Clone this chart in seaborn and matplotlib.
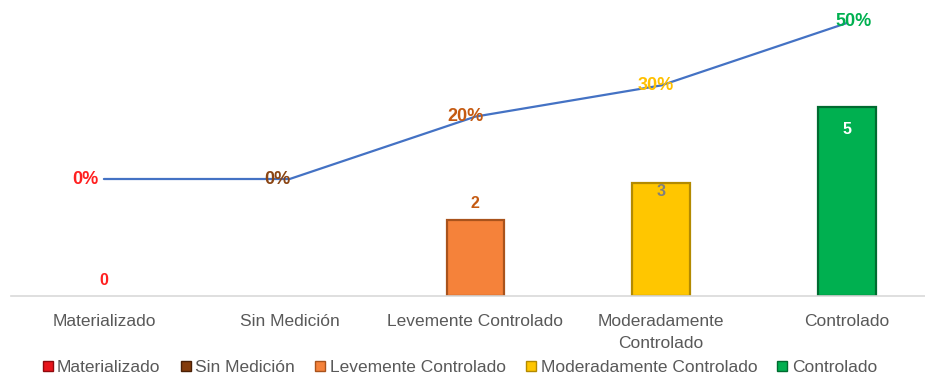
import matplotlib
matplotlib.use("Agg")
import matplotlib.pyplot as plt
from matplotlib.lines import Line2D
import seaborn as sns
import pandas as pd

# Data
categories = ["Materializado", "Sin Medición", "Levemente Controlado",
              "Moderadamente Controlado", "Controlado"]
tick_labels = ["Materializado", "Sin Medición", "Levemente Controlado",
               "Moderadamente\nControlado", "Controlado"]
counts = [0, 0, 2, 3, 5]
count_labels = ["0", "", "2", "3", "5"]
shares = [0.0, 0.0, 0.20, 0.30, 0.50]
share_labels = ["0%", "0%", "20%", "30%", "50%"]

colors = ["#E8141B", "#843C0C", "#F5823A", "#FFC600", "#00B050"]
edge_colors = ["#8F0A0E", "#4A2006", "#A9531C", "#B38A00", "#006B30"]
pct_colors = ["#FF2020", "#8B4513", "#C55A11", "#FFC000", "#00B050"]
count_colors = ["#FF2020", "#8B4513", "#C55A11", "#7F7F7F", "#FFFFFF"]

sns.set_theme(style="white")
plt.rcParams["font.family"] = ["Liberation Sans", "DejaVu Sans"]

df = pd.DataFrame({"categoria": categories, "cantidad": counts, "porcentaje": shares})

fig = plt.figure(figsize=(9.25, 3.74), dpi=100)
ax = fig.add_axes([11 / 925, 78 / 374, 914 / 925, 291 / 374])

sns.barplot(data=df, x="categoria", y="cantidad", hue="categoria",
            palette=colors, saturation=1, width=0.31, legend=False, ax=ax,
            order=categories, hue_order=categories)
for patch, ec in zip(ax.patches, edge_colors):
    if patch.get_height() > 0:
        patch.set_edgecolor(ec)
        patch.set_linewidth(1.6)
    else:
        patch.set_linewidth(0)

ax.set_xlim(-0.5, 4.42)
ax.set_ylim(0, 7.70)
ax.set_yticks([])
ax.set_xlabel("")
ax.set_ylabel("")
ax.set_xticks(range(len(categories)))
ax.set_xticklabels(tick_labels, fontsize=12.5, color="#595959", linespacing=1.55)
ax.tick_params(axis="x", length=0, pad=13)
for side in ["top", "left", "right"]:
    ax.spines[side].set_visible(False)
ax.spines["bottom"].set_color("#D9D9D9")
ax.spines["bottom"].set_linewidth(1.2)

# Count labels
count_offsets = [11, 0, 12, -6.5, -16]
for i, (v, lab, c, off) in enumerate(zip(counts, count_labels, count_colors, count_offsets)):
    if lab:
        ax.annotate(lab, (i, v), xytext=(0, off), textcoords="offset points",
                    ha="center", va="center", fontsize=11.5, fontweight="bold",
                    color=c)

# Percentage line on secondary axis
ax2 = ax.twinx()
sns.lineplot(data=df, x="categoria", y="porcentaje", color="#4472C4",
             linewidth=1.6, ax=ax2, sort=False)
ax2.set_ylim(-0.375, 0.5577)
ax2.set_yticks([])
ax2.set_ylabel("")
for side in ["top", "left", "right", "bottom"]:
    ax2.spines[side].set_visible(False)

pct_offsets = [(-13, 0), (-9, 0), (-7, 0), (-4, 0), (5, 1)]
for i, (v, lab, c, off) in enumerate(zip(shares, share_labels, pct_colors, pct_offsets)):
    ax2.annotate(lab, (i, v), xytext=off, textcoords="offset points",
                 ha="center", va="center", fontsize=13, fontweight="bold",
                 color=c)

# Legend
handles = [Line2D([0], [0], marker="s", linestyle="none", markersize=7,
                  markerfacecolor=c, markeredgecolor=ec, markeredgewidth=1)
           for c, ec in zip(colors, edge_colors)]
fig.legend(handles, categories, loc="center", bbox_to_anchor=(0.497, 7 / 374),
           ncol=5, frameon=False, fontsize=12.5, handlelength=0.6,
           handletextpad=0.25, columnspacing=1.15, labelcolor="#595959")

fig.savefig("out.png", dpi=100)
